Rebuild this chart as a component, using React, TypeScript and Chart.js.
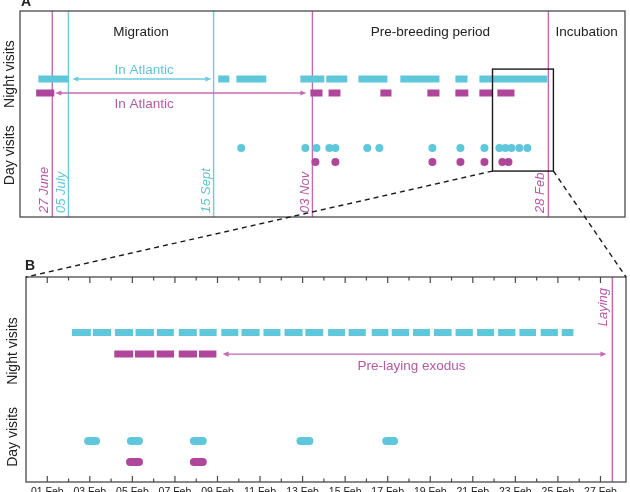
import { useEffect, useRef } from 'react';
import { Chart, registerables } from 'chart.js';

Chart.register(...registerables);

// ---------- Panel A: whole season ----------
// Season days are counted from 1 June (27 June = 26, 1 Feb = 245, 28 Feb = 272).
const nightCyanA: number[][] = [
  [19.1, 33.9], [108.3, 113.8], [117.3, 132.1], [149, 160.9], [161.9, 172.3],
  [177.8, 192.2], [198.6, 218], [225.9, 231.9], [237.8, 271.5],
];
const nightMagentaA: number[][] = [
  [18, 27], [154, 160], [163, 168.9], [188.7, 194.2], [212, 218],
  [225.9, 232.3], [237.8, 244.3], [246.7, 255.2],
];
const dayCyanA: number[] = [
  119.7, 151.5, 157, 163.4, 166.4, 182.2, 188.2, 214.5, 228.4, 240.3,
  247.7, 250.7, 253.7, 257.6, 261.6,
];
const dayMagentaA: number[] = [156.5, 166.4, 214.5, 228.4, 240.3, 249.2, 252.2];

const eventDays: number[] = [26, 34, 106, 155, 272];
const eventLabels: string[] = ['27 June', '05 July', '15 Sept', '03 Nov', '28 Feb'];
const eventBird: string[] = ['m', 'c', 'c', 'm', 'm'];

const phaseLabels: string[] = ['Migration', 'Pre-breeding period', 'Incubation'];
const phaseStart: number[] = [34, 155, 272];
const phaseEnd: number[] = [106, 272, 310];

const atlanticCyan: number[] = [35.9, 104.9];
const atlanticMagenta: number[] = [27.5, 152];
const atlanticLabelDay = 71.5;

const zoomWindow: number[] = [244.3, 274.5];

// ---------- Panel B: February close-up ----------
// Days of February (1 = 01 Feb).
const nightCyanB: number[][] = [
  [2.16, 3.05], [3.14, 4.0], [4.18, 5.03], [5.15, 6.01], [6.15, 6.95], [7.18, 8.03],
  [8.15, 8.96], [9.18, 9.98], [10.13, 10.98], [11.16, 11.96], [12.15, 13.0], [13.13, 13.97],
  [14.2, 15.0], [15.16, 15.97], [16.25, 17.03], [17.19, 18.0], [18.19, 18.99], [19.17, 20.0],
  [20.19, 21.0], [21.2, 22.0], [22.19, 23.0], [23.19, 23.97], [24.19, 25.0], [25.18, 25.73],
];
const nightMagentaB: number[][] = [
  [4.15, 5.04], [5.12, 6.03], [6.14, 6.96], [7.18, 8.04], [8.13, 8.95],
];
const dayCyanB: number[][] = [
  [2.92, 3.29], [4.93, 5.31], [7.89, 8.31], [12.9, 13.32], [16.93, 17.3],
];
const dayMagentaB: number[][] = [[4.89, 5.31], [7.89, 8.31]];

const layingDay = 27.56;
const exodus: number[] = [9.24, 27.28];

const tickDays: number[] = [1, 3, 5, 7, 9, 11, 13, 15, 17, 19, 21, 23, 25, 27];
const tickLabels: string[] = [
  '01 Feb', '03 Feb', '05 Feb', '07 Feb', '09 Feb', '11 Feb', '13 Feb',
  '15 Feb', '17 Feb', '19 Feb', '21 Feb', '23 Feb', '25 Feb', '27 Feb',
];

// ---------- styling ----------
const CYAN = '#5ec7da';
const MAGENTA = '#b0469a';
const CYAN_LINE = '#6ccbdc';
const MAGENTA_LINE = '#c46ab3';
const CYAN_TEXT = '#5fc4d7';
const MAGENTA_TEXT = '#b658a6';
const INK = '#222222';
const FRAME = '#4a4a4a';
const FONT = '"Liberation Sans", Arial, Helvetica, sans-serif';

// vertical positions of the four rows (scale 0..100 within each panel)
const ROW_A = { nightCyan: 67, nightMagenta: 60.2, dayCyan: 33.5, dayMagenta: 26.7 };
const ROW_B = { nightCyan: 72.9, nightMagenta: 62.4, dayCyan: 20, dayMagenta: 9.8 };

const segs = (list: number[][], y: number) =>
  list.flatMap(([s, e]) => [{ x: s, y }, { x: e, y }, { x: e, y: null as any }]);

function vText(ctx: CanvasRenderingContext2D, text: string, x: number, y: number,
  font: string, color: string, align: CanvasTextAlign) {
  ctx.save();
  ctx.translate(x, y);
  ctx.rotate(-Math.PI / 2);
  ctx.font = font;
  ctx.fillStyle = color;
  ctx.textAlign = align;
  ctx.textBaseline = 'middle';
  ctx.fillText(text, 0, 0);
  ctx.restore();
}

function hText(ctx: CanvasRenderingContext2D, text: string, x: number, y: number,
  font: string, color: string, align: CanvasTextAlign = 'center') {
  ctx.save();
  ctx.font = font;
  ctx.fillStyle = color;
  ctx.textAlign = align;
  ctx.textBaseline = 'middle';
  ctx.fillText(text, x, y);
  ctx.restore();
}

function doubleArrow(ctx: CanvasRenderingContext2D, x1: number, x2: number, y: number, color: string) {
  const h = 6, w = 2.6;
  ctx.save();
  ctx.strokeStyle = color;
  ctx.fillStyle = color;
  ctx.lineWidth = 1.4;
  ctx.beginPath();
  ctx.moveTo(x1 + 3, y);
  ctx.lineTo(x2 - 3, y);
  ctx.stroke();
  ctx.beginPath();
  ctx.moveTo(x1, y); ctx.lineTo(x1 + h, y - w); ctx.lineTo(x1 + h, y + w); ctx.closePath();
  ctx.fill();
  ctx.beginPath();
  ctx.moveTo(x2, y); ctx.lineTo(x2 - h, y - w); ctx.lineTo(x2 - h, y + w); ctx.closePath();
  ctx.fill();
  ctx.restore();
}

function frame(ctx: CanvasRenderingContext2D, a: { left: number; top: number; right: number; bottom: number }) {
  ctx.save();
  ctx.strokeStyle = FRAME;
  ctx.lineWidth = 1.3;
  ctx.strokeRect(a.left, a.top, a.right - a.left, a.bottom - a.top);
  ctx.restore();
}

export default function App() {
  const aRef = useRef<HTMLCanvasElement>(null);
  const bRef = useRef<HTMLCanvasElement>(null);

  useEffect(() => {
    if (!aRef.current || !bRef.current) return;

    const panelA = {
      id: 'panelA',
      beforeDatasetsDraw(chart: any) {
        const { ctx, chartArea: a, scales: { x } } = chart;
        ctx.save();
        eventDays.forEach((d, i) => {
          const px = x.getPixelForValue(d);
          ctx.strokeStyle = eventBird[i] === 'c' ? CYAN_LINE : MAGENTA_LINE;
          ctx.lineWidth = 1.4;
          ctx.beginPath();
          ctx.moveTo(px, a.top);
          ctx.lineTo(px, a.bottom);
          ctx.stroke();
        });
        ctx.restore();
      },
      afterDatasetsDraw(chart: any) {
        const { ctx, chartArea: a, scales: { x, y } } = chart;
        frame(ctx, a);

        // event dates, rotated, beside their lines
        eventDays.forEach((d, i) => {
          const px = x.getPixelForValue(d);
          vText(ctx, eventLabels[i], px - 7.5, a.bottom - 4, `italic 13px ${FONT}`,
            eventBird[i] === 'c' ? CYAN_TEXT : MAGENTA_TEXT, 'left');
        });

        // phases
        phaseLabels.forEach((t, i) => {
          const px = x.getPixelForValue((phaseStart[i] + phaseEnd[i]) / 2);
          hText(ctx, t, px, y.getPixelForValue(89.8), `13.5px ${FONT}`, INK);
        });

        // at-sea periods
        const yc = y.getPixelForValue(ROW_A.nightCyan);
        const ym = y.getPixelForValue(ROW_A.nightMagenta);
        doubleArrow(ctx, x.getPixelForValue(atlanticCyan[0]), x.getPixelForValue(atlanticCyan[1]), yc, CYAN_LINE);
        doubleArrow(ctx, x.getPixelForValue(atlanticMagenta[0]), x.getPixelForValue(atlanticMagenta[1]), ym, MAGENTA_LINE);
        const lx = x.getPixelForValue(atlanticLabelDay);
        hText(ctx, 'In Atlantic', lx, yc - 9, `13.5px ${FONT}`, CYAN_TEXT);
        hText(ctx, 'In Atlantic', lx, ym + 11, `13.5px ${FONT}`, MAGENTA_TEXT);

        // zoom window shown in panel B
        ctx.save();
        ctx.strokeStyle = '#1a1a1a';
        ctx.lineWidth = 1.4;
        const zx1 = x.getPixelForValue(zoomWindow[0]);
        const zx2 = x.getPixelForValue(zoomWindow[1]);
        const zy1 = y.getPixelForValue(71.8);
        const zy2 = y.getPixelForValue(22.3);
        ctx.strokeRect(zx1, zy1, zx2 - zx1, zy2 - zy1);
        ctx.restore();

        // axis titles and panel letter
        vText(ctx, 'Night visits', 10, y.getPixelForValue(69.4), `14px ${FONT}`, INK, 'center');
        vText(ctx, 'Day visits', 10, y.getPixelForValue(30), `14px ${FONT}`, INK, 'center');
        ctx.save();
        ctx.font = `bold 14px ${FONT}`;
        ctx.fillStyle = INK;
        ctx.textBaseline = 'alphabetic';
        ctx.fillText('A', 21, 6);
        ctx.restore();
      },
    };

    const chartA = new Chart(aRef.current, {
      type: 'line',
      data: {
        datasets: [
          { data: segs(nightCyanA, ROW_A.nightCyan), borderColor: CYAN, borderWidth: 7,
            borderCapStyle: 'butt', pointRadius: 0, spanGaps: false } as any,
          { data: segs(nightMagentaA, ROW_A.nightMagenta), borderColor: MAGENTA, borderWidth: 7,
            borderCapStyle: 'butt', pointRadius: 0, spanGaps: false } as any,
          { data: dayCyanA.map((d) => ({ x: d, y: ROW_A.dayCyan })), showLine: false,
            pointRadius: 4, pointBackgroundColor: CYAN, pointBorderWidth: 0, borderColor: CYAN } as any,
          { data: dayMagentaA.map((d) => ({ x: d, y: ROW_A.dayMagenta })), showLine: false,
            pointRadius: 4, pointBackgroundColor: MAGENTA, pointBorderWidth: 0, borderColor: MAGENTA } as any,
        ],
      },
      options: {
        responsive: false,
        animation: false,
        events: [],
        layout: { padding: { left: 20, top: 11, right: 5, bottom: 275 } },
        plugins: { legend: { display: false }, tooltip: { enabled: false } },
        scales: {
          x: { type: 'linear', min: 10, max: 310, display: false },
          y: { type: 'linear', min: 0, max: 100, display: false },
        },
      },
      plugins: [panelA],
    });

    const panelB = {
      id: 'panelB',
      beforeDatasetsDraw(chart: any) {
        const { ctx, chartArea: a, scales: { x } } = chart;
        const px = x.getPixelForValue(layingDay);
        ctx.save();
        ctx.strokeStyle = MAGENTA_LINE;
        ctx.lineWidth = 1.5;
        ctx.beginPath();
        ctx.moveTo(px, a.top);
        ctx.lineTo(px, a.bottom);
        ctx.stroke();
        ctx.restore();
      },
      afterDatasetsDraw(chart: any) {
        const { ctx, chartArea: a, scales: { x, y } } = chart;
        frame(ctx, a);

        // inward tick marks on bottom and top edges
        ctx.save();
        ctx.strokeStyle = FRAME;
        ctx.lineWidth = 1.2;
        x.ticks.forEach((t: any) => {
          const v = t.value;
          if (v <= x.min || v >= x.max || !Number.isInteger(v)) return;
          const px = x.getPixelForValue(v);
          const len = tickDays.includes(v) ? 6 : 3.5;
          ctx.beginPath();
          ctx.moveTo(px, a.bottom);
          ctx.lineTo(px, a.bottom - len);
          ctx.moveTo(px, a.top);
          ctx.lineTo(px, a.top + len);
          ctx.stroke();
        });
        ctx.restore();

        // laying
        vText(ctx, 'Laying', x.getPixelForValue(layingDay) - 9, a.top + 11,
          `italic 13px ${FONT}`, MAGENTA_TEXT, 'right');

        // pre-laying exodus
        const ym = y.getPixelForValue(ROW_B.nightMagenta);
        const ex1 = x.getPixelForValue(exodus[0]);
        const ex2 = x.getPixelForValue(exodus[1]);
        doubleArrow(ctx, ex1, ex2, ym, MAGENTA_LINE);
        hText(ctx, 'Pre-laying exodus', (ex1 + ex2) / 2 - 3, ym + 12, `13.5px ${FONT}`, MAGENTA_TEXT);

        vText(ctx, 'Night visits', 13, y.getPixelForValue(63.9), `14px ${FONT}`, INK, 'center');
        vText(ctx, 'Day visits', 13, y.getPixelForValue(22), `14px ${FONT}`, INK, 'center');
        ctx.save();
        ctx.font = `bold 14px ${FONT}`;
        ctx.fillStyle = INK;
        ctx.textBaseline = 'alphabetic';
        ctx.fillText('B', 25, 270);
        ctx.restore();

        // dashed connectors from the zoom window in panel A
        const xa = chartA.scales.x;
        const ya = chartA.scales.y;
        const by = ya.getPixelForValue(22.3);
        ctx.save();
        ctx.strokeStyle = '#1a1a1a';
        ctx.lineWidth = 1.4;
        ctx.setLineDash([5, 4]);
        ctx.beginPath();
        ctx.moveTo(xa.getPixelForValue(zoomWindow[0]), by);
        ctx.lineTo(a.left, a.top);
        ctx.moveTo(xa.getPixelForValue(zoomWindow[1]), by);
        ctx.lineTo(a.right, a.top);
        ctx.stroke();
        ctx.restore();
      },
    };

    const pill = (list: number[][], y: number, color: string) => ({
      data: segs(list, y), borderColor: color, borderWidth: 8, borderCapStyle: 'round',
      pointRadius: 0, spanGaps: false,
    } as any);

    const chartB = new Chart(bRef.current, {
      type: 'line',
      data: {
        datasets: [
          { data: segs(nightCyanB, ROW_B.nightCyan), borderColor: CYAN, borderWidth: 7,
            borderCapStyle: 'butt', pointRadius: 0, spanGaps: false } as any,
          { data: segs(nightMagentaB, ROW_B.nightMagenta), borderColor: MAGENTA, borderWidth: 7,
            borderCapStyle: 'butt', pointRadius: 0, spanGaps: false } as any,
          pill(dayCyanB, ROW_B.dayCyan, CYAN),
          pill(dayMagentaB, ROW_B.dayMagenta, MAGENTA),
        ],
      },
      options: {
        responsive: false,
        animation: false,
        events: [],
        layout: { padding: { left: 26, top: 277, right: 2, bottom: 0 } },
        plugins: { legend: { display: false }, tooltip: { enabled: false } },
        scales: {
          x: {
            type: 'linear', min: 0, max: 28.2,
            grid: { display: false, drawTicks: false },
            border: { display: false },
            afterFit(scale: any) { scale.height = 28; },
            ticks: {
              stepSize: 1, autoSkip: false, maxRotation: 0, padding: 4,
              color: INK, font: { family: FONT, size: 10.5 },
              callback: (v: any) => {
                const i = tickDays.indexOf(Number(v));
                return i >= 0 ? tickLabels[i] : '';
              },
            },
          },
          y: { type: 'linear', min: 0, max: 100, display: false },
        },
      },
      plugins: [panelB],
    });

    return () => {
      chartB.destroy();
      chartA.destroy();
    };
  }, []);

  return (
    <div style={{ position: 'fixed', left: 0, top: 0, width: 630, height: 492, overflow: 'hidden', background: '#fff' }}>
      <canvas ref={aRef} width={630} height={492} style={{ position: 'absolute', left: 0, top: 0 }} />
      <canvas ref={bRef} width={630} height={510} style={{ position: 'absolute', left: 0, top: 0 }} />
    </div>
  );
}
